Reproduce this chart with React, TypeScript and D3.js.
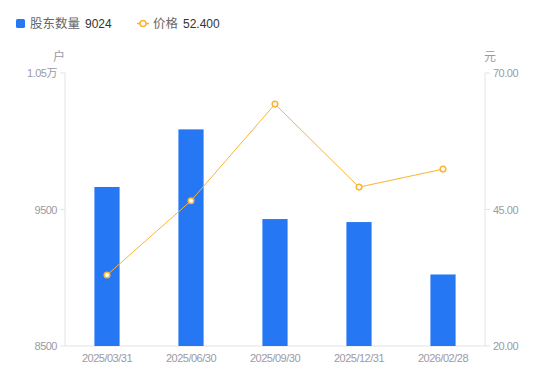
import React from "react";
import * as d3 from "d3";

const categories = ["2025/03/31", "2025/06/30", "2025/09/30", "2025/12/31", "2026/02/28"];
const holders = [9665, 10087, 9430, 9408, 9024];
const prices = [33.0, 46.6, 64.3, 49.1, 52.4];
const leftTicks = [8500, 9500, 10500];
const leftTickLabels = ["8500", "9500", "1.05万"];
const rightTicks = [20, 45, 70];

const W = 550, H = 381;
const M = { left: 65, right: 485, top: 73, bottom: 346 };
const FONT = "'Liberation Sans', 'Noto Sans CJK SC', sans-serif";
const BLUE = "#2677f3";
const ORANGE = "#fbb331";
const GREY = "#9a9aa6";

export default function App() {
  const x = d3.scaleBand().domain(categories).range([M.left, M.right]);
  const yL = d3.scaleLinear().domain([8500, 10500]).range([M.bottom, M.top]);
  const yR = d3.scaleLinear().domain([20, 70]).range([M.bottom, M.top]);
  const bw = x.bandwidth() * 0.3;
  const cx = (c: string) => (x(c) as number) + x.bandwidth() / 2;
  const line = d3.line<number>().x((_, i) => cx(categories[i])).y((d) => yR(d));

  return (
    <svg width={W} height={H} style={{ position: "absolute", left: 0, top: 0 }} fontFamily={FONT}>
      <rect x={0} y={0} width={W} height={H} fill="#fff" />
      {/* legend */}
      <rect x={16} y={19} width={9} height={9} rx={1.5} fill={BLUE} />
      <text x={30} y={28} fontSize={12.5} fill="#666">股东数量</text>
      <text x={85} y={28} fontSize={12} fill="#333">9024</text>
      <line x1={137} x2={149} y1={23.5} y2={23.5} stroke={ORANGE} strokeWidth={1.5} />
      <circle cx={143} cy={23.5} r={3} fill="#fff" stroke={ORANGE} strokeWidth={1.5} />
      <text x={153} y={28} fontSize={12.5} fill="#666">价格</text>
      <text x={183} y={28} fontSize={12} fill="#333">52.400</text>

      {/* axis names */}
      <text x={59} y={61} fontSize={12} fill={GREY} textAnchor="middle">户</text>
      <text x={490} y={61} fontSize={12} fill={GREY} textAnchor="middle">元</text>

      {/* axes lines */}
      <line x1={M.left} x2={M.left} y1={M.top} y2={M.bottom} stroke="#e3e3e8" />
      <line x1={M.right} x2={M.right} y1={M.top} y2={M.bottom} stroke="#e3e3e8" />
      <line x1={M.left} x2={M.right} y1={M.bottom} y2={M.bottom} stroke="#e3e3e8" />

      {leftTicks.map((t, i) => (
        <g key={"l" + t}>
          <line x1={M.left - 5} x2={M.left} y1={yL(t)} y2={yL(t)} stroke="#e3e3e8" />
          <text x={M.left - 8} y={yL(t) + 4} fontSize={11} letterSpacing={-0.5} fill={GREY} textAnchor="end">{leftTickLabels[i]}</text>
        </g>
      ))}
      {rightTicks.map((t) => (
        <g key={"r" + t}>
          <line x1={M.right} x2={M.right + 5} y1={yR(t)} y2={yR(t)} stroke="#e3e3e8" />
          <text x={M.right + 8} y={yR(t) + 4} fontSize={11} letterSpacing={-0.5} fill={GREY}>{t.toFixed(2)}</text>
        </g>
      ))}

      {categories.map((c) => (
        <text key={c} x={cx(c)} y={362} fontSize={11} letterSpacing={-0.5} fill={GREY} textAnchor="middle">{c}</text>
      ))}

      {holders.map((v, i) => (
        <rect key={i} x={cx(categories[i]) - bw / 2} y={yL(v)} width={bw} height={M.bottom - yL(v)} fill={BLUE} />
      ))}

      <path d={line(prices) || ""} fill="none" stroke={ORANGE} strokeWidth={1} />
      {prices.map((p, i) => (
        <circle key={i} cx={cx(categories[i])} cy={yR(p)} r={2.8} fill="#fff" stroke={ORANGE} strokeWidth={1.5} />
      ))}
    </svg>
  );
}
